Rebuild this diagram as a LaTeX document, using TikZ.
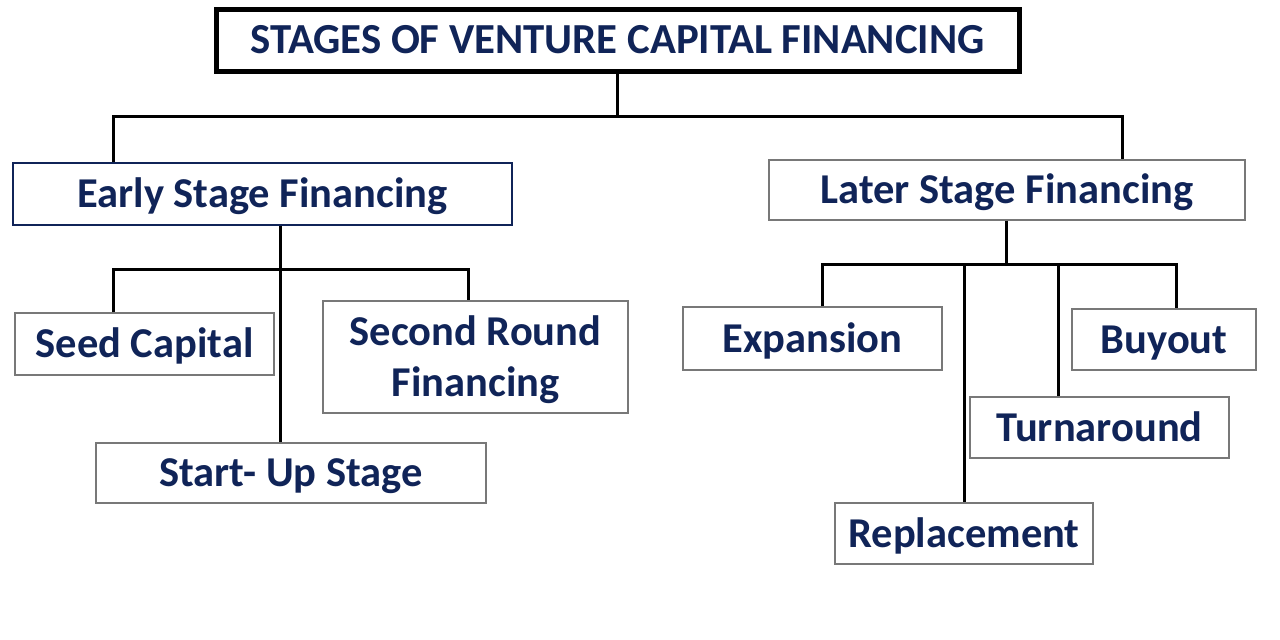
\documentclass[tikz,border=0pt]{standalone}
\usepackage{fontspec}
\setmainfont{Carlito}
\definecolor{navy}{RGB}{16,36,88}
\definecolor{boxgray}{RGB}{120,120,120}
\begin{document}
\begin{tikzpicture}[x=1pt,y=-1pt,
  box/.style={draw=boxgray, line width=1.3pt, fill=white, inner sep=0pt, text=navy,
    font=\bfseries\fontsize{42.5}{51}\selectfont, align=center,
    text height=27.4pt, text depth=0pt},
  conn/.style={line width=3pt, draw=black}]
\useasboundingbox[fill=white] (0,0) rectangle (1280,640);
% nodes
\node[box, draw=black, line width=5pt, minimum width=803pt, minimum height=62pt,
  font=\bfseries\fontsize{42.8}{50}\selectfont] (title) at (617.5,40) {STAGES OF VENTURE CAPITAL FINANCING};
\node[box, draw=navy, line width=1.8pt, minimum width=499pt, minimum height=62pt] (early) at (262.5,194) {Early Stage Financing};
\node[box, minimum width=476pt, minimum height=60pt] (later) at (1007,190) {Later Stage Financing};
\node[box, minimum width=259pt, minimum height=62pt] (seed) at (144.5,344) {Seed Capital};
\node[box, minimum width=305pt, minimum height=112pt, text height=78.4pt, text depth=0pt] (second) at (475.5,357) {Second Round\\Financing};
\node[box, minimum width=390pt, minimum height=60pt] (start) at (291,473) {Start- Up Stage};
\node[box, minimum width=259pt, minimum height=63pt] (expansion) at (812.5,338.5) {Expansion};
\node[box, minimum width=184pt, minimum height=61pt] (buyout) at (1164,339.5) {Buyout};
\node[box, minimum width=259pt, minimum height=61pt] (turn) at (1099.5,427.5) {Turnaround};
\node[box, minimum width=258pt, minimum height=61pt] (repl) at (964,533.5) {Replacement};
% junction coordinates
\coordinate (hL) at (113,116);
\coordinate (hR) at (1122,116);
\coordinate (eL) at (113,269);
\coordinate (eR) at (468,269);
\coordinate (eX) at (280,269);
\coordinate (lL) at (822,264);
\coordinate (lR) at (1176,264);
\coordinate (lM) at (1006,264);
\coordinate (lP) at (964,264);
\coordinate (lT) at (1058,264);
% connectors
\draw[conn] (title.south) -- (title.south |- hL);
\draw[conn] (hL |- early.north) -- (hL) -- (hR) -- (hR |- later.north);
\draw[conn] (eL |- seed.north) -- (eL) -- (eR) -- (eR |- second.north);
\draw[conn] (eX |- early.south) -- (eX |- start.north);
\draw[conn] (lM |- later.south) -- (lM);
\draw[conn] (lL |- expansion.north) -- (lL) -- (lR) -- (lR |- buyout.north);
\draw[conn] (lP) -- (lP |- repl.north);
\draw[conn] (lT) -- (lT |- turn.north);
\end{tikzpicture}
\end{document}
